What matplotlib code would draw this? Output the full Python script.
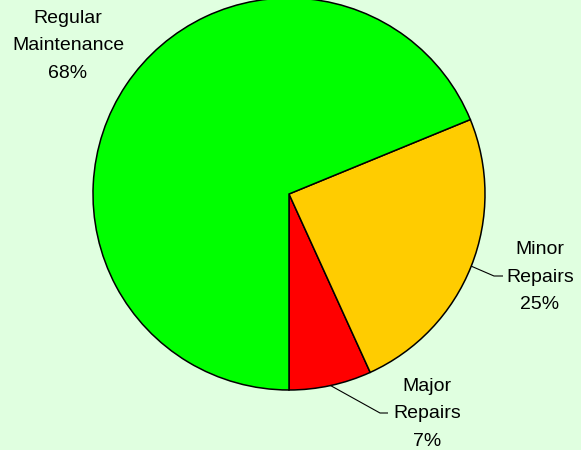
import numpy as np
import matplotlib
matplotlib.use("Agg")
import matplotlib.pyplot as plt

categories = ["Major\nRepairs", "Minor\nRepairs", "Regular\nMaintenance"]
values = [6.8, 24.4, 68.8]          # slice sizes as drawn
pct_labels = ["7%", "25%", "68%"]   # labels as printed
colors = ["#FF0000", "#FFCC00", "#00FF00"]
bg = "#E0FFE0"

W, H = 581, 450
fig = plt.figure(figsize=(W / 100, H / 100), dpi=100, facecolor=bg)
ax = fig.add_axes([0, 0, 1, 1])
ax.set_facecolor(bg)

cx, cy, r = 289, H - 194, 196
wedges, _ = ax.pie(values, colors=colors, startangle=270, counterclock=True,
                   radius=r, center=(cx, cy), frame=True,
                   wedgeprops=dict(edgecolor="black", linewidth=1.1))
ax.set_xlim(0, W)
ax.set_ylim(0, H)
ax.set_aspect("equal")
ax.axis("off")

font = dict(family=["Liberation Sans", "DejaVu Sans"], fontsize=14,
            ha="center", va="center", linespacing=1.83)

# label layout: (text x, text y(from top), elbow x, elbow y(from top), end x)
layout = [
    (427, 414, 380, 413, 388),
    (540, 277, 494, 276, 503),
    (68, 46, None, None, None),
]
for w, cat, p, (tx, ty, ex, ey, endx) in zip(wedges, categories, pct_labels, layout):
    ax.text(tx, H - ty, f"{cat}\n{p}", **font)
    if ex is not None:
        ang = np.deg2rad((w.theta1 + w.theta2) / 2)
        px, py = cx + r * np.cos(ang), cy + r * np.sin(ang)
        ax.plot([px, ex, endx], [py, H - ey, H - ey], color="black", lw=0.8,
                solid_capstyle="butt")

fig.savefig("out.png", dpi=100, facecolor=bg)
